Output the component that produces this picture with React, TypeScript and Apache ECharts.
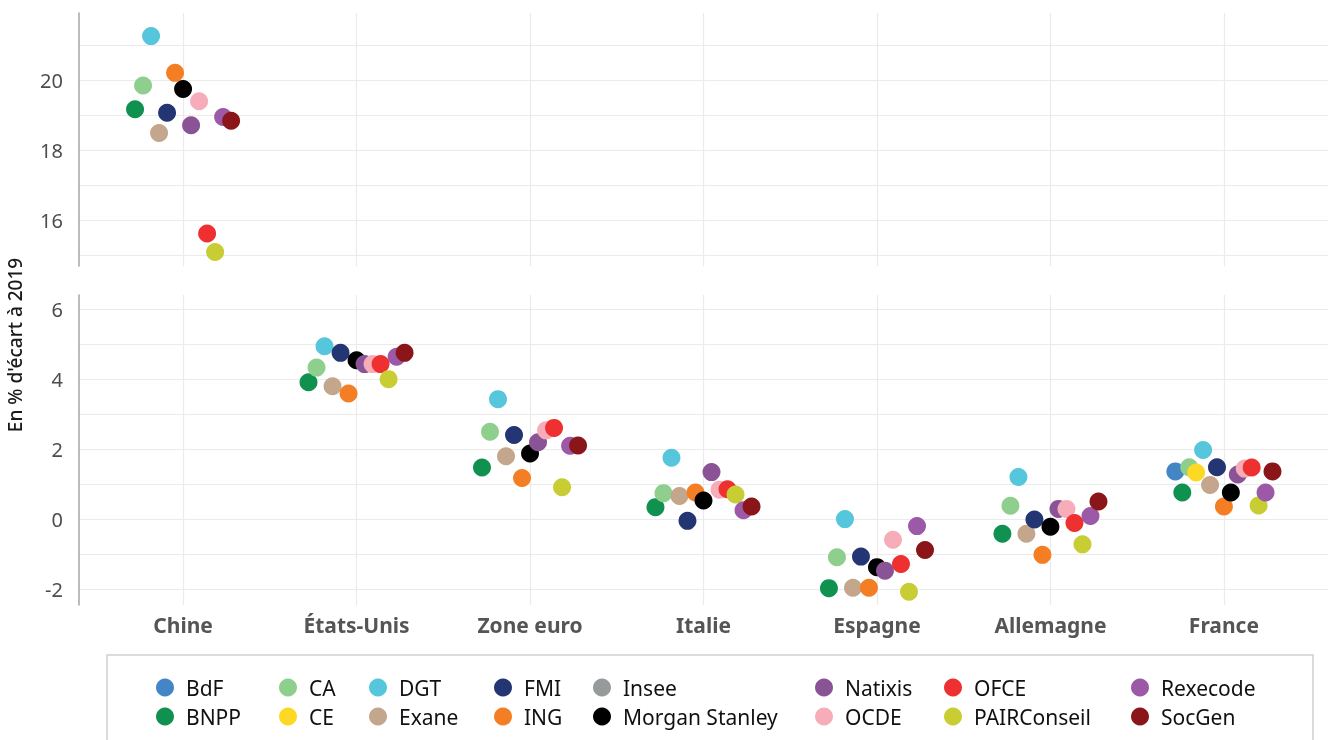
import React, { useEffect, useRef } from "react";
import * as echarts from "echarts";

const categories = ["Chine", "États-Unis", "Zone euro", "Italie", "Espagne", "Allemagne", "France"];

const forecasters = ["BdF", "BNPP", "CA", "CE", "DGT", "Exane", "FMI", "ING", "Insee", "Morgan Stanley", "Natixis", "OCDE", "OFCE", "PAIRConseil", "Rexecode", "SocGen"];

const colors = ["#4485c5", "#109150", "#8ecf8e", "#fdd825", "#56c6dc", "#c4a68c", "#243573", "#f47e24", "#969a9b", "#000000", "#8a5396", "#f6adb9", "#ee3030", "#c8cd33", "#9b59a7", "#8a1619"];

// values per category: Chine, États-Unis, Zone euro, Italie, Espagne, Allemagne, France
const BdF = [null, null, null, null, null, null, 1.37];
const BNPP = [19.17, 3.91, 1.48, 0.35, -1.96, -0.41, 0.77];
const CA = [19.85, 4.33, 2.5, 0.75, -1.08, 0.39, 1.49];
const CE = [null, null, null, null, null, null, 1.34];
const DGT = [21.26, 4.94, 3.43, 1.76, 0.01, 1.21, 1.98];
const Exane = [18.49, 3.8, 1.8, 0.67, -1.95, -0.41, 0.98];
const FMI = [19.07, 4.75, 2.41, -0.04, -1.06, 0.0, 1.49];
const ING = [20.21, 3.59, 1.18, 0.77, -1.95, -1.01, 0.37];
const Insee = [null, null, null, null, null, null, null];
const MorganStanley = [19.75, 4.54, 1.88, 0.54, -1.36, -0.21, 0.77];
const Natixis = [18.71, 4.43, 2.2, 1.35, -1.46, 0.3, 1.28];
const OCDE = [19.4, 4.43, 2.54, 0.85, -0.58, 0.3, 1.45];
const OFCE = [15.62, 4.43, 2.61, 0.86, -1.27, -0.1, 1.48];
const PAIRConseil = [15.09, 4.0, 0.92, 0.71, -2.06, -0.71, 0.4];
const Rexecode = [18.95, 4.64, 2.1, 0.26, -0.19, 0.1, 0.77];
const SocGen = [18.84, 4.75, 2.11, 0.37, -0.87, 0.51, 1.37];

const values: (number | null)[][] = [BdF, BNPP, CA, CE, DGT, Exane, FMI, ING, Insee, MorganStanley, Natixis, OCDE, OFCE, PAIRConseil, Rexecode, SocGen];

const topTicks = [15, 16, 17, 18, 19, 20, 21];
const topLabels = [16, 18, 20];
const bottomTicks = [-2, -1, 0, 1, 2, 3, 4, 5, 6];
const bottomLabels = [-2, 0, 2, 4, 6];

const FONT = "'Noto Sans', 'Open Sans', sans-serif";
const DODGE = 0.6;

function dodgeX(catIdx: number, fIdx: number): number {
  const present: number[] = [];
  values.forEach((v, k) => {
    if (v[catIdx] !== null && v[catIdx] !== undefined) present.push(k);
  });
  const n = present.length;
  const i = present.indexOf(fIdx);
  return catIdx + 1 - DODGE / 2 + (DODGE * (i + 0.5)) / n;
}

export default function App() {
  const ref = useRef<HTMLDivElement>(null);
  useEffect(() => {
    if (!ref.current) return;
    const chart = echarts.init(ref.current, undefined, { renderer: "svg" });
    const catValues = categories.map((_, i) => i + 1);

    const xAxisBase = (gridIndex: number, showLabels: boolean) => ({
      type: "value",
      gridIndex,
      min: 0.4,
      max: 7.6,
      axisLine: { show: false },
      axisTick: { show: false, customValues: catValues },
      splitLine: { show: true, lineStyle: { color: "#ebebeb", width: 1.2 } },
      axisLabel: {
        show: showLabels,
        customValues: catValues,
        formatter: (v: number) => categories[Math.round(v) - 1] ?? "",
        fontFamily: FONT,
        fontSize: 21,
        fontWeight: "bold",
        color: "#555555",
        margin: 9,
      },
    });

    const yAxisBase = (gridIndex: number, min: number, max: number, ticks: number[], labels: number[]) => ({
      type: "value",
      gridIndex,
      min,
      max,
      axisLine: { show: true, lineStyle: { color: "#a6a6a6", width: 1.5 } },
      axisTick: { show: false, customValues: ticks },
      splitLine: { show: true, lineStyle: { color: "#ebebeb", width: 1.2 } },
      axisLabel: {
        customValues: labels,
        fontFamily: FONT,
        fontSize: 20,
        color: "#4d4d4d",
        margin: 16,
      },
    });

    const series: any[] = [];
    forecasters.forEach((name, k) => {
      const top: number[][] = [];
      const bottom: number[][] = [];
      values[k].forEach((v, c) => {
        if (v === null || v === undefined) return;
        const pt = [dodgeX(c, k), v];
        if (c === 0) top.push(pt);
        else bottom.push(pt);
      });
      series.push({
        type: "scatter",
        name,
        xAxisIndex: 0,
        yAxisIndex: 0,
        symbol: "circle",
        symbolSize: 18,
        itemStyle: { color: colors[k], opacity: 1 },
        data: top,
      });
      series.push({
        type: "scatter",
        name,
        xAxisIndex: 1,
        yAxisIndex: 1,
        symbol: "circle",
        symbolSize: 18,
        itemStyle: { color: colors[k], opacity: 1 },
        data: bottom,
      });
    });

    const legendCenters = [165, 288, 378, 503, 602, 824, 953, 1140];
    const legends = legendCenters.map((cx, j) => ({
      orient: "vertical",
      left: cx - 9,
      top: 677,
      itemWidth: 18,
      itemHeight: 18,
      itemGap: 8,
      icon: "circle",
      selectedMode: false,
      padding: 0,
      data: [forecasters[2 * j], forecasters[2 * j + 1]],
      textStyle: { fontFamily: FONT, fontSize: 21, color: "#111111", padding: [0, 0, 0, 7], lineHeight: 21 },
    }));

    chart.setOption({
      animation: false,
      color: colors,
      grid: [
        { left: 79, right: 2, top: 13, height: 253, containLabel: false },
        { left: 79, right: 2, top: 295, height: 310, containLabel: false },
      ],
      xAxis: [xAxisBase(0, false), xAxisBase(1, true)],
      yAxis: [
        yAxisBase(0, 14.69, 21.92, topTicks, topLabels),
        yAxisBase(1, -2.44, 6.4, bottomTicks, bottomLabels),
      ],
      legend: legends,
      graphic: [
        {
          type: "rect",
          shape: { x: 107, y: 655, width: 1206, height: 100 },
          style: { fill: "none", stroke: "#cfcfcf", lineWidth: 1.5 },
          silent: true,
        },
        {
          type: "text",
          x: 15,
          y: 345,
          rotation: Math.PI / 2,
          style: {
            text: "En % d'écart à 2019",
            fontFamily: FONT,
            fontSize: 19,
            fontWeight: 500,
            fill: "#1a1a1a",
            align: "center",
            verticalAlign: "middle",
          },
        },
      ],
      series,
    });
    return () => chart.dispose();
  }, []);
  return <div ref={ref} style={{ position: "fixed", left: 0, top: 0, width: 1330, height: 740 }} />;
}
